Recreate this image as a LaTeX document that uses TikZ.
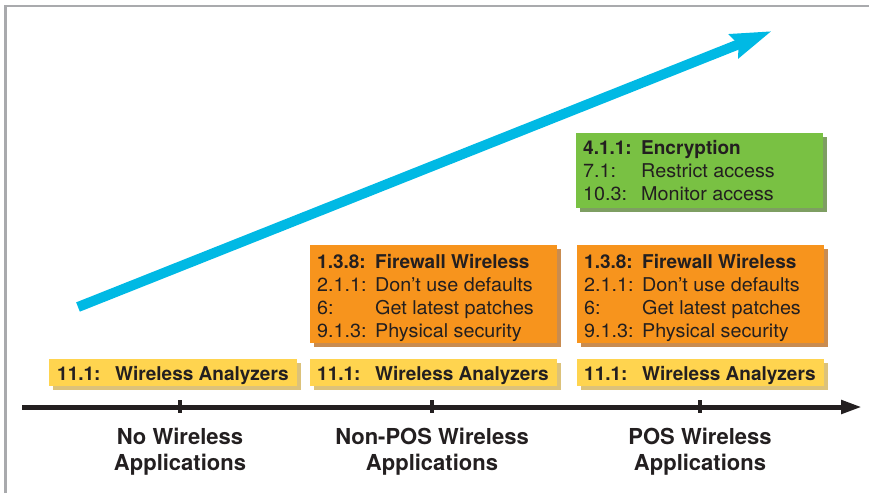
\documentclass[tikz,border=0pt]{standalone}
\usepackage{fontspec}
\setmainfont{TeX Gyre Heros}[UprightFeatures={FakeStretch=1.04}]
\usetikzlibrary{arrows.meta,shadows}
\definecolor{cblue}{HTML}{00B9E4}
\definecolor{corange}{HTML}{F7941D}
\definecolor{cyellow}{HTML}{FFD44F}
\definecolor{cgreen}{HTML}{79C143}
\definecolor{syellow}{HTML}{DCC27A}
\definecolor{sorange}{HTML}{C98C50}
\definecolor{sgreen}{HTML}{7E9E62}
\definecolor{ctext}{HTML}{231F20}
\definecolor{cframe}{HTML}{A9AAAD}
\tikzset{
  boxbase/.style={anchor=north west, inner sep=0pt, outer sep=0pt, draw=none},
  ybox/.style={boxbase, fill=cyellow, general shadow={fill=syellow, shadow xshift=4pt, shadow yshift=-4pt}},
  obox/.style={boxbase, fill=corange, general shadow={fill=sorange, shadow xshift=4pt, shadow yshift=-4pt}},
  gbox/.style={boxbase, fill=cgreen, general shadow={fill=sgreen, shadow xshift=4pt, shadow yshift=-4pt}},
  boxtext/.style={anchor=base west, inner sep=0pt, text=ctext, font=\fontsize{19}{23}\selectfont},
  lbl/.style={anchor=base, inner sep=0pt, text=ctext, font=\fontsize{22}{26}\selectfont\bfseries},
}
\newcommand{\rowlab}[2]{\makebox[58pt][l]{#1}#2}
\begin{document}
\begin{tikzpicture}[x=1pt,y=-1pt]
\useasboundingbox (0,0) rectangle (869,493);
% frame
\draw[cframe, line width=2.5pt] (5.3,493) -- (5.3,6.2) -- (869,6.2);
% blue arrow
\coordinate (bs) at (78,307);
\coordinate (be) at (772,31);
\draw[cblue, line width=10pt, -{Stealth[length=40pt,width=24pt,inset=4pt]}] (bs) -- (be);
% green box
\node[gbox, minimum width=247pt, minimum height=75pt] (g) at (576,133) {};
\node[boxtext] (gt) at (583,154) {\begin{tabular}[t]{@{}l@{}}
\rowlab{\bfseries 4.1.1:}{\bfseries Encryption}\\
\rowlab{7.1:}{Restrict access}\\
\rowlab{10.3:}{Monitor access}
\end{tabular}};
% orange boxes
\node[obox, minimum width=247pt, minimum height=98pt] (o2) at (310,245) {};
\node[boxtext] (o2t) at (317,268) {\begin{tabular}[t]{@{}l@{}}
\rowlab{\bfseries 1.3.8:}{\bfseries Firewall Wireless}\\
\rowlab{2.1.1:}{Don’t use defaults}\\
\rowlab{6:}{Get latest patches}\\
\rowlab{9.1.3:}{Physical security}
\end{tabular}};
\node[obox, minimum width=247pt, minimum height=98pt] (o3) at (577,245) {};
\node[boxtext] (o3t) at (584,268) {\begin{tabular}[t]{@{}l@{}}
\rowlab{\bfseries 1.3.8:}{\bfseries Firewall Wireless}\\
\rowlab{2.1.1:}{Don’t use defaults}\\
\rowlab{6:}{Get latest patches}\\
\rowlab{9.1.3:}{Physical security}
\end{tabular}};
% yellow boxes
\node[ybox, minimum width=248pt, minimum height=27pt] (y1) at (49,359) {};
\node[boxtext] (y1t) at (57,380) {\rowlab{\bfseries 11.1:}{\bfseries Wireless Analyzers}};
\node[ybox, minimum width=247pt, minimum height=27pt] (y2) at (310,359) {};
\node[boxtext] (y2t) at (317,380) {\rowlab{\bfseries 11.1:}{\bfseries Wireless Analyzers}};
\node[ybox, minimum width=247pt, minimum height=27pt] (y3) at (577,359) {};
\node[boxtext] (y3t) at (584,380) {\rowlab{\bfseries 11.1:}{\bfseries Wireless Analyzers}};
% axis
\coordinate (a0) at (22,407);
\coordinate (a1) at (862,407);
\draw[ctext, line width=5pt, -{Triangle[length=21pt,width=13pt]}] (a0) -- (a1);
\foreach \n/\x in {t1/180,t2/432,t3/700}{
  \coordinate (\n a) at (\x,400);
  \coordinate (\n b) at (\x,413);
  \draw[ctext, line width=3.5pt] (\n a) -- (\n b);
}
% labels
\node[lbl] (l1) at (180,444) {\begin{tabular}[t]{@{}c@{}}No Wireless\\Applications\end{tabular}};
\node[lbl] (l2) at (432,444) {\begin{tabular}[t]{@{}c@{}}Non-POS Wireless\\Applications\end{tabular}};
\node[lbl] (l3) at (700,444) {\begin{tabular}[t]{@{}c@{}}POS Wireless\\Applications\end{tabular}};
\end{tikzpicture}
\end{document}
